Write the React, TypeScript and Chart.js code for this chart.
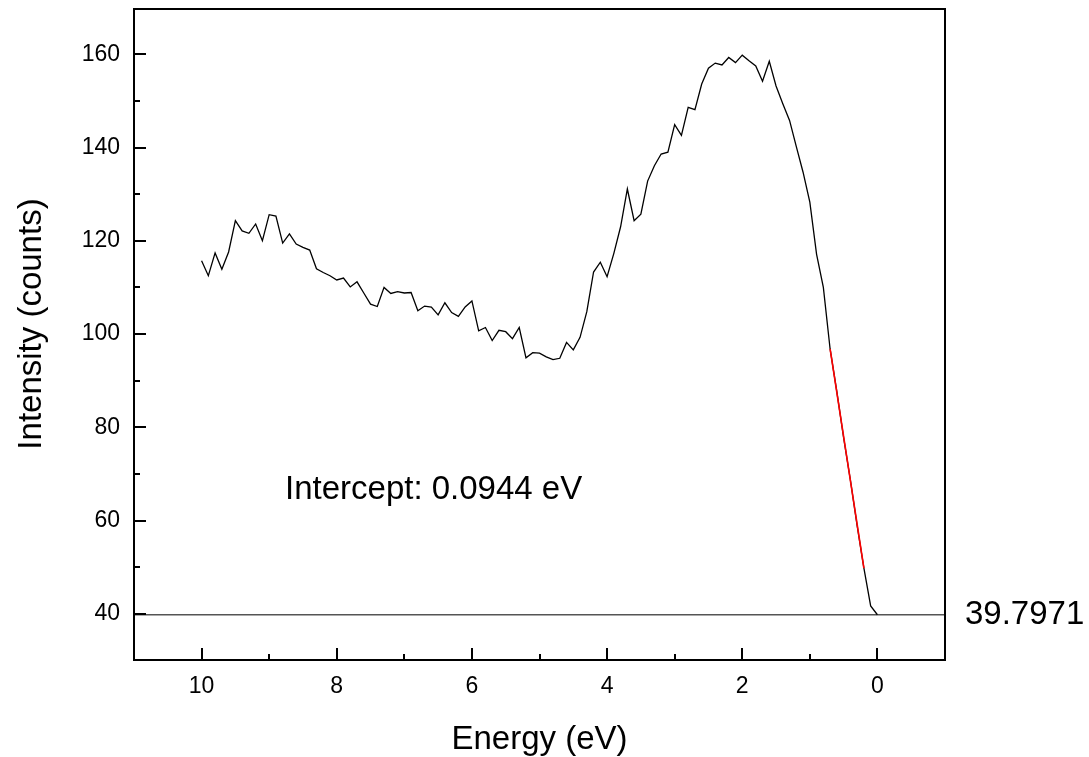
import { useEffect, useRef } from 'react';
import { Chart, registerables } from 'chart.js';

Chart.register(...registerables);

const energy = [
  10.0, 9.9, 9.8, 9.7, 9.6, 9.5, 9.4, 9.3, 9.2, 9.1,
  9.0, 8.9, 8.8, 8.7, 8.6, 8.5, 8.4, 8.3, 8.2, 8.1,
  8.0, 7.9, 7.8, 7.7, 7.6, 7.5, 7.4, 7.3, 7.2, 7.1,
  7.0, 6.9, 6.8, 6.7, 6.6, 6.5, 6.4, 6.3, 6.2, 6.1,
  6.0, 5.9, 5.8, 5.7, 5.6, 5.5, 5.4, 5.3, 5.2, 5.1,
  5.0, 4.9, 4.8, 4.7, 4.6, 4.5, 4.4, 4.3, 4.2, 4.1,
  4.0, 3.9, 3.8, 3.7, 3.6, 3.5, 3.4, 3.3, 3.2, 3.1,
  3.0, 2.9, 2.8, 2.7, 2.6, 2.5, 2.4, 2.3, 2.2, 2.1,
  2.0, 1.9, 1.8, 1.7, 1.6, 1.5, 1.4, 1.3, 1.2, 1.1,
  1.0, 0.9, 0.8, 0.7, 0.6, 0.5, 0.4, 0.3, 0.2, 0.1,
  0.0,
];

const intensity = [
  115.7, 112.5, 117.4, 113.9, 117.6, 124.3, 122.1, 121.6, 123.6, 120.0,
  125.6, 125.3, 119.5, 121.5, 119.3, 118.6, 118.0, 114.0, 113.2, 112.5,
  111.6, 112.0, 110.1, 111.2, 108.8, 106.4, 105.9, 110.0, 108.7, 109.1,
  108.8, 108.9, 105.0, 106.0, 105.8, 104.1, 106.7, 104.6, 103.8, 105.8,
  107.1, 100.7, 101.4, 98.6, 100.8, 100.5, 99.0, 101.4, 94.9, 96.0,
  95.9, 95.1, 94.5, 94.8, 98.2, 96.6, 99.3, 104.8, 113.3, 115.4,
  112.3, 117.3, 123.0, 131.1, 124.3, 125.7, 132.8, 136.1, 138.6, 139.0,
  144.9, 142.6, 148.6, 148.1, 153.6, 157.0, 158.1, 157.7, 159.3, 158.2,
  159.8, 158.6, 157.5, 154.2, 158.5, 153.2, 149.4, 145.8, 140.2, 134.7,
  128.3, 117.1, 110.0, 96.8, 87.6, 77.8, 68.7, 58.9, 49.8, 41.7,
  39.8,
];

const fitEnergy = [0.7, 0.2];
const fitIntensity = [96.8, 49.8];

const baselineValue = 39.7971;
const baselineLabel = '39.7971';
const interceptLabel = 'Intercept: 0.0944 eV';

const xTitle = 'Energy (eV)';
const yTitle = 'Intensity (counts)';

const xRange = [-1, 11];
const yRange = [30.1, 169.7];

const xTickValues = [10, 8, 6, 4, 2, 0];
const xMinorTickValues = [9, 7, 5, 3, 1];
const yTickValues = [40, 60, 80, 100, 120, 140, 160];
const yMinorTickValues = [50, 70, 90, 110, 130, 150];

const FONT = "'Liberation Sans', Arial, sans-serif";

const framePlugin = {
  id: 'framePlugin',
  afterDraw(chart: any) {
    const { ctx, chartArea: a, scales } = chart;
    const x = scales.x;
    const y = scales.y;
    ctx.save();
    ctx.strokeStyle = '#000';
    ctx.lineWidth = 2;
    ctx.strokeRect(a.left, a.top, a.right - a.left, a.bottom - a.top);

    ctx.beginPath();
    for (const v of xTickValues) {
      const px = Math.round(x.getPixelForValue(v));
      ctx.moveTo(px, a.bottom);
      ctx.lineTo(px, a.bottom - 12);
    }
    for (const v of xMinorTickValues) {
      const px = Math.round(x.getPixelForValue(v));
      ctx.moveTo(px, a.bottom);
      ctx.lineTo(px, a.bottom - 6);
    }
    for (const v of yTickValues) {
      const py = Math.round(y.getPixelForValue(v));
      ctx.moveTo(a.left, py);
      ctx.lineTo(a.left + 12, py);
    }
    for (const v of yMinorTickValues) {
      const py = Math.round(y.getPixelForValue(v));
      ctx.moveTo(a.left, py);
      ctx.lineTo(a.left + 6, py);
    }
    ctx.stroke();

    ctx.fillStyle = '#000';
    ctx.font = `33px ${FONT}`;
    ctx.textAlign = 'left';
    ctx.textBaseline = 'middle';
    ctx.fillText(baselineLabel, a.right + 20, y.getPixelForValue(baselineValue));

    ctx.fillText(interceptLabel, a.left + 151, a.top + 481);

    ctx.textAlign = 'center';
    ctx.textBaseline = 'alphabetic';
    ctx.fillText(xTitle, (a.left + a.right) / 2, 749);

    ctx.translate(41, 324);
    ctx.rotate(-Math.PI / 2);
    ctx.fillText(yTitle, 0, 0);
    ctx.restore();
  },
};

export default function App() {
  const canvasRef = useRef<HTMLCanvasElement | null>(null);

  useEffect(() => {
    const canvas = canvasRef.current;
    if (!canvas) return;
    const chart = new Chart(canvas, {
      type: 'line',
      data: {
        datasets: [
          {
            label: 'Linear fit',
            data: fitEnergy.map((e, i) => ({ x: e, y: fitIntensity[i] })),
            borderColor: '#ff0000',
            borderWidth: 1.6,
            pointRadius: 0,
            tension: 0,
            order: 0,
          },
          {
            label: 'Intensity',
            data: energy.map((e, i) => ({ x: e, y: intensity[i] })),
            borderColor: '#000000',
            borderWidth: 1.3,
            pointRadius: 0,
            tension: 0,
            order: 1,
          },
          {
            label: 'Baseline',
            data: xRange.map((e) => ({ x: e, y: baselineValue })),
            borderColor: '#555555',
            borderWidth: 1.5,
            pointRadius: 0,
            tension: 0,
            order: 2,
          },
        ],
      },
      options: {
        animation: false,
        responsive: false,
        devicePixelRatio: 1,
        layout: { padding: { left: 0, right: 144, top: 9, bottom: 0 } },
        plugins: {
          legend: { display: false },
          tooltip: { enabled: false },
        },
        scales: {
          x: {
            type: 'linear',
            reverse: true,
            min: xRange[0],
            max: xRange[1],
            border: { display: false },
            grid: { display: false, drawTicks: false },
            afterBuildTicks: (scale: any) => {
              scale.ticks = xTickValues.map((v) => ({ value: v }));
            },
            afterFit: (scale: any) => {
              scale.height = 97;
              scale.paddingLeft = 0;
              scale.paddingRight = 0;
              scale.paddingTop = 0;
              scale.paddingBottom = 0;
            },
            ticks: {
              color: '#000',
              padding: 13,
              maxRotation: 0,
              autoSkip: false,
              font: { family: FONT, size: 23 },
            },
          },
          y: {
            type: 'linear',
            min: yRange[0],
            max: yRange[1],
            border: { display: false },
            grid: { display: false, drawTicks: false },
            afterBuildTicks: (scale: any) => {
              scale.ticks = yTickValues.map((v) => ({ value: v }));
            },
            afterFit: (scale: any) => {
              scale.width = 134;
              scale.paddingLeft = 0;
              scale.paddingRight = 0;
              scale.paddingTop = 0;
              scale.paddingBottom = 0;
            },
            ticks: {
              color: '#000',
              padding: 14,
              autoSkip: false,
              font: { family: FONT, size: 23 },
            },
          },
        },
      },
      plugins: [framePlugin],
    } as any);
    return () => chart.destroy();
  }, []);

  return (
    <div style={{ position: 'fixed', left: 0, top: 0, width: 1089, height: 757, background: '#fff' }}>
      <canvas ref={canvasRef} width={1089} height={757} style={{ width: 1089, height: 757, display: 'block' }} />
    </div>
  );
}
